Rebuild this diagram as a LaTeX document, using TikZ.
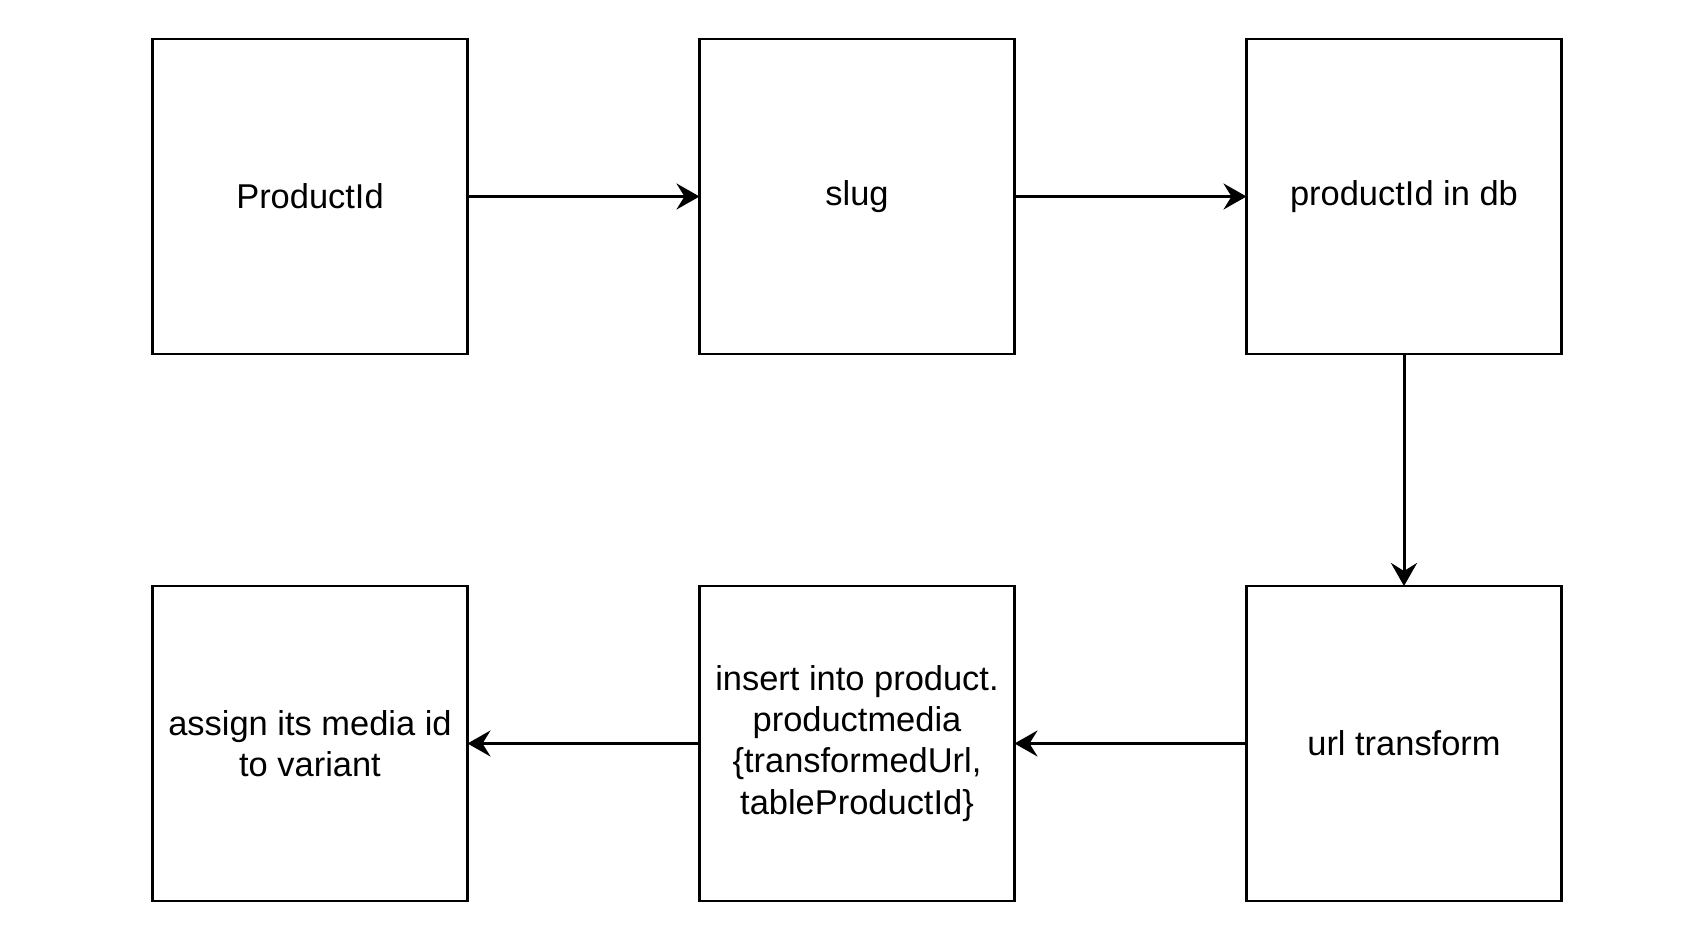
\documentclass[tikz,border=0pt]{standalone}
\usepackage{fontspec}
\setmainfont{Liberation Sans}
\usepackage{tikz}
\usetikzlibrary{arrows.meta, positioning}
\tikzset{
    stepbox/.style={draw, line width=0.85pt, minimum width=3.15cm, minimum height=3.15cm,
        align=center, inner sep=0pt, outer sep=0pt, font=\fontsize{9.8}{11.7}\selectfont},
    flow/.style={-{Stealth[length=2.3mm, width=2.6mm, inset=0.8mm]}, line width=0.85pt}
}

\begin{document}
\begin{tikzpicture}
    \useasboundingbox (0,0) rectangle (16.96,9.46);

    % Top row
    \node[stepbox] (productid) at (3.10, 7.495) {ProductId};
    \node[stepbox, right=2.32cm of productid] (slug) {slug};
    \node[stepbox, right=2.32cm of slug] (indb) {productId in db};

    % Bottom row
    \node[stepbox, below=2.32cm of indb] (transform) {url transform};
    \node[stepbox, left=2.32cm of transform] (insert) {insert into product.\\productmedia\\\{transformedUrl,\\tableProductId\}};
    \node[stepbox, left=2.32cm of insert] (assign) {assign its media id\\to variant};

    % Arrows
    \draw[flow] (productid) -- (slug);
    \draw[flow] (slug) -- (indb);
    \draw[flow] (indb) -- (transform);
    \draw[flow] (transform) -- (insert);
    \draw[flow] (insert) -- (assign);
\end{tikzpicture}
\end{document}
